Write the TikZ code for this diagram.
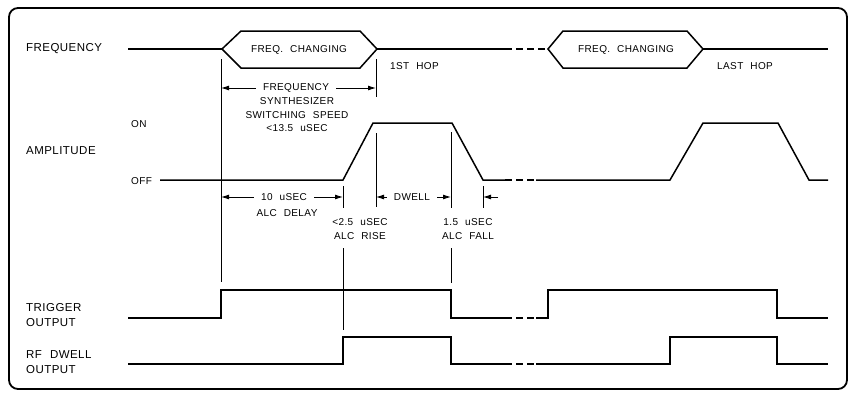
\documentclass[tikz,border=0pt]{standalone}
\usepackage{fontspec}
\newfontfamily\cadfont[LetterSpace=4,WordSpace=2.2]{Liberation Sans}
\usetikzlibrary{arrows.meta}
\newcommand{\lblfont}{\cadfont\fontsize{11.5}{15}\selectfont}
\newcommand{\txtfont}{\cadfont\fontsize{10}{13.5}\selectfont}
\tikzset{
  frame/.style    = {line width=1.8pt, rounded corners=9pt},
  signal/.style   = {line width=1.5pt, line join=miter},
  gapline/.style  = {signal, dash pattern=on 7pt off 4pt},
  guide/.style    = {line width=0.7pt},
  dimarrow/.style = {line width=0.9pt, -{Latex[length=8pt,width=5pt]}},
  lbl/.style      = {font=\lblfont, anchor=west, align=left, inner sep=0pt},
  txt/.style      = {font=\txtfont, inner sep=1pt},
  dimtxt/.style   = {txt, inner xsep=7pt},
}
\begin{document}
\begin{tikzpicture}[x=1pt,y=-1pt]
  \useasboundingbox (0,0) rectangle (852,397);
  \draw[frame] (9,8) rectangle (847,389);

  % time marks
  \coordinate (tA) at (221,0);
  \coordinate (tB) at (343,0);
  \coordinate (tC) at (376,0);
  \coordinate (tD) at (451,0);
  \coordinate (tE) at (483,0);

  % row labels
  \node[lbl] (lfreq) at (26,49) {FREQUENCY};
  \node[lbl, font=\txtfont] (lon) at (131,124) {ON};
  \node[lbl] (lamp) at (26,151) {AMPLITUDE};
  \node[lbl, font=\txtfont] (loff) at (131,181) {OFF};
  \node[lbl] (ltrig) at (26,315) {TRIGGER\\OUTPUT};
  \node[lbl] (lrf) at (26,362) {RF DWELL\\OUTPUT};

  % Frequency
  \draw[signal] (128,49) -- (222,49);
  \draw[signal] (222,49) -- (241,31) -- (360,31) -- (377,49) -- (360,68) -- (241,68) -- cycle;
  \node[txt] (fc1) at (299,50) {FREQ. CHANGING};
  \draw[signal] (377,49) -- (505,49);
  \draw[gapline] (505,49) -- (548,49);
  \draw[signal] (548,49) -- (563,31) -- (687,31) -- (703,49) -- (687,68) -- (563,68) -- cycle;
  \node[txt] (fc2) at (626,50) {FREQ. CHANGING};
  \draw[signal] (703,49) -- (828,49);
  \node[txt, anchor=west] (hop1) at (389,66) {1ST HOP};
  \node[txt, anchor=west] (hopn) at (716,66) {LAST HOP};

  % Amplitude
  \draw[signal] (160,180) -- (343,180) -- (373,123) -- (452,123) -- (483,180) -- (505,180);
  \draw[gapline] (505,180) -- (536,180);
  \draw[signal] (536,180) -- (670,180) -- (703,123) -- (778,123) -- (809,180) -- (828,180);

  % Trigger output
  \draw[signal] (128,318) -- (221,318) -- (221,290) -- (451,290) -- (451,318) -- (505,318);
  \draw[gapline] (505,318) -- (536,318);
  \draw[signal] (536,318) -- (548,318) -- (548,290) -- (777,290) -- (777,318) -- (828,318);

  % RF dwell output
  \draw[signal] (128,364) -- (343,364) -- (343,337) -- (451,337) -- (451,364) -- (505,364);
  \draw[gapline] (505,364) -- (536,364);
  \draw[signal] (536,364) -- (670,364) -- (670,337) -- (777,337) -- (777,364) -- (828,364);

  % guide lines
  \draw[guide] (221,59) -- (221,282);
  \draw[guide] (376,59) -- (376,97);
  \draw[guide] (376,133) -- (376,207);
  \draw[guide] (343,186) -- (343,208);
  \draw[guide] (343,248) -- (343,330);
  \draw[guide] (451,132) -- (451,208);
  \draw[guide] (451,248) -- (451,283);
  \draw[guide] (483,186) -- (483,208);

  % switching speed
  \node[dimtxt] (fs) at (296,88) {FREQUENCY};
  \node[txt, align=center] (fsx) at (297,115) {SYNTHESIZER\\SWITCHING SPEED\\<13.5 uSEC};
  \draw[dimarrow] (fs.west) -- (fs.west -| tA);
  \draw[dimarrow] (fs.east) -- (fs.east -| tC);

  % ALC timing
  \node[dimtxt] (dly) at (284,197) {10 uSEC};
  \node[txt] (dly2) at (287,213) {ALC DELAY};
  \draw[dimarrow] (dly.west) -- (dly.west -| tA);
  \draw[dimarrow] (dly.east) -- (dly.east -| tB);
  \node[txt, align=center] (rise) at (360,229) {<2.5 uSEC\\ALC RISE};
  \node[dimtxt] (dwl) at (412,197) {DWELL};
  \draw[dimarrow] (dwl.west) -- (dwl.west -| tC);
  \draw[dimarrow] (dwl.east) -- (dwl.east -| tD);
  \node[txt, align=center] (fall) at (468,229) {1.5 uSEC\\ALC FALL};
  \coordinate (fe) at (498,197);
  \draw[dimarrow] (fe) -- (fe -| tE);
\end{tikzpicture}
\end{document}
